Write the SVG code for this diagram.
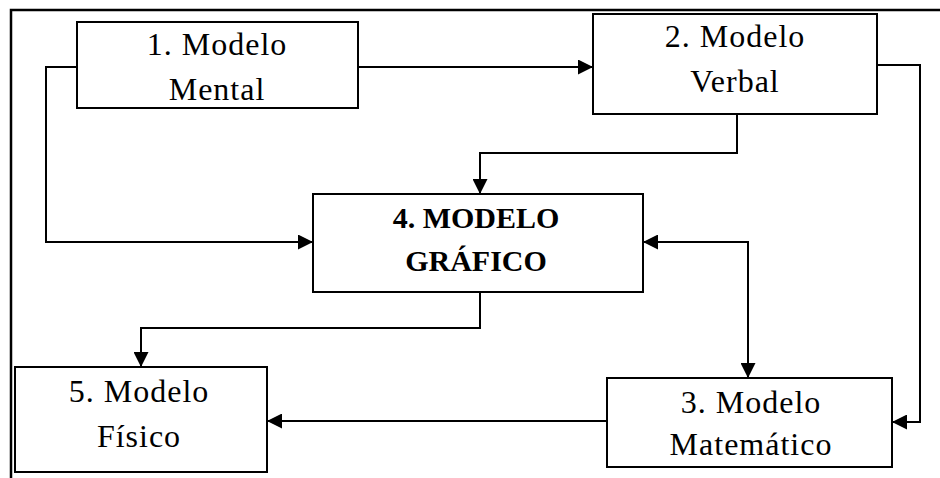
<svg xmlns="http://www.w3.org/2000/svg" width="940" height="478" viewBox="0 0 940 478">
<defs>
<marker id="ah" viewBox="0 0 10 10" refX="10" refY="5" markerWidth="16" markerHeight="15" markerUnits="userSpaceOnUse" orient="auto-start-reverse">
<path d="M0,0 L10,5 L0,10 Z" fill="#000"/>
</marker>
</defs>
<style>
.box{fill:#fff;stroke:#000;stroke-width:2}
.t{font-family:"Liberation Serif","Times New Roman",serif;font-size:32px;fill:#000;text-anchor:middle;letter-spacing:1px}
.b{font-weight:bold;font-size:30px;letter-spacing:0}
.c{fill:none;stroke:#000;stroke-width:2}
</style>
<rect width="940" height="478" fill="#fff"/>
<path d="M11,478 L11,10 L940,10" fill="none" stroke="#000" stroke-width="2.5"/>
<g id="connectors">
<path class="c" d="M358,67 L593,67" marker-end="url(#ah)"/>
<path class="c" d="M77,67 L46,67 L46,242 L313,242" marker-end="url(#ah)"/>
<path class="c" d="M737,114 L737,153 L480,153 L480,194" marker-end="url(#ah)"/>
<path class="c" d="M877,65 L920,65 L920,422 L892,422" marker-end="url(#ah)"/>
<path class="c" d="M643,242 L748,242 L748,378" marker-start="url(#ah)" marker-end="url(#ah)"/>
<path class="c" d="M480,292 L480,328 L141,328 L141,367" marker-end="url(#ah)"/>
<path class="c" d="M607,421 L267,421" marker-end="url(#ah)"/>
</g>
<g id="n1">
<rect class="box" x="77" y="22" width="281" height="86"/>
<text class="t" x="217" y="55">1. Modelo</text>
<text class="t" x="217" y="100">Mental</text>
</g>
<g id="n2">
<rect class="box" x="593" y="14" width="284" height="100"/>
<text class="t" x="735" y="47">2. Modelo</text>
<text class="t" x="735" y="92">Verbal</text>
</g>
<g id="n4">
<rect class="box" x="313" y="194" width="330" height="98"/>
<text class="t b" x="476" y="228">4. MODELO</text>
<text class="t b" x="476" y="271">GRÁFICO</text>
</g>
<g id="n5">
<rect class="box" x="15" y="367" width="252" height="105"/>
<text class="t" x="139" y="402">5. Modelo</text>
<text class="t" x="139" y="447">Físico</text>
</g>
<g id="n3">
<rect class="box" x="607" y="378" width="285" height="89"/>
<text class="t" x="751" y="413">3. Modelo</text>
<text class="t" x="751" y="455">Matemático</text>
</g>
</svg>
